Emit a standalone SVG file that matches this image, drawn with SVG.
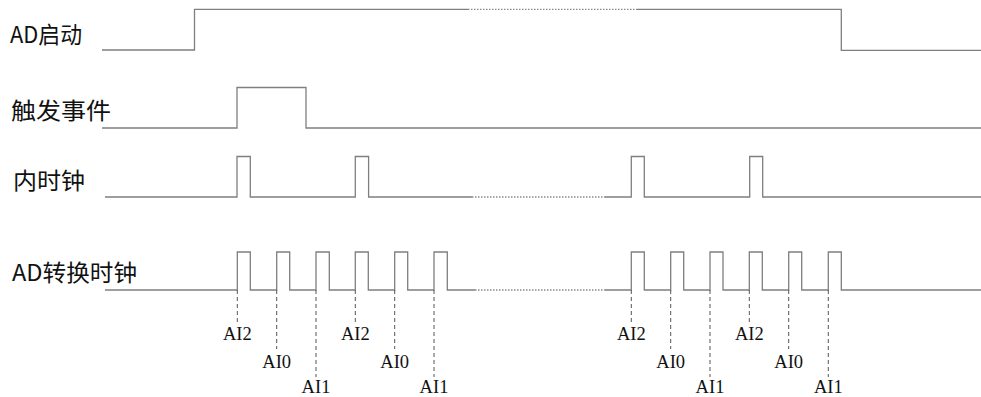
<svg xmlns="http://www.w3.org/2000/svg" width="981" height="397" viewBox="0 0 981 397">
<style>
.sig{fill:none;stroke:#7f7f7f;stroke-width:1.3}
.dot{fill:none;stroke:#8a8a8a;stroke-width:1.3;stroke-dasharray:1.5 1.5}
.dash{fill:none;stroke:#555;stroke-width:1;stroke-dasharray:4 3}
.lbl{font-family:"Noto Sans CJK SC","Noto Sans CJK JP",sans-serif;font-size:23px;fill:#111}
.ai{font-family:"Liberation Serif","Times New Roman",serif;font-size:18.5px;fill:#111;text-anchor:middle}
</style>
<rect width="981" height="397" fill="#fff"/>
<g id="ad-start">
<text class="lbl" x="10" y="43" textLength="72" lengthAdjust="spacingAndGlyphs">AD启动</text>
<path class="sig" d="M102,50 H194.5 V9.3 H468"/>
<path class="dot" d="M468,9.3 H637"/>
<path class="sig" d="M637,9.3 H841.3 V50.3 H981"/>
</g>
<g id="trigger">
<text class="lbl" x="11" y="119" textLength="100" lengthAdjust="spacingAndGlyphs">触发事件</text>
<path class="sig" d="M102,128 H237 V87.5 H306 V128 H981"/>
</g>
<g id="internal-clock">
<text class="lbl" x="13" y="189" textLength="72" lengthAdjust="spacingAndGlyphs">内时钟</text>
<path class="sig" d="M105,197 H237 V156.5 H250.3 V197 H355.3 V156.5 H368.6 V197 H472"/>
<path class="dot" d="M472,197 H605"/>
<path class="sig" d="M605,197 H631.3 V156.5 H644.3 V197 H749.7 V156.5 H762.7 V197 H981"/>
</g>
<g id="ad-conv-clock">
<text class="lbl" x="12" y="281" textLength="125" lengthAdjust="spacingAndGlyphs">AD转换时钟</text>
<path class="sig" d="M105,290 H237.3 V252 H250.3 V290 H276.7 V252 H289.7 V290 H316 V252 H329.3 V290 H355.3 V252 H368.3 V290 H394.7 V252 H407.7 V290 H434 V252 H447.3 V290 H475"/>
<path class="dot" d="M475,290 H605"/>
<path class="sig" d="M605,290 H631.3 V252 H644.3 V290 H670.7 V252 H683.7 V290 H710 V252 H723 V290 H749.3 V252 H762.3 V290 H788.7 V252 H801.7 V290 H828.3 V252 H841.3 V290 H981"/>
</g>
<g id="connectors">
<path class="dash" d="M237.3,290 V322 M276.7,290 V349 M316,290 V377 M355.3,290 V322 M394.7,290 V349 M434,290 V377 M631.3,290 V322 M670.7,290 V349 M710,290 V377 M749.3,290 V322 M788.7,290 V349 M828.3,290 V377"/>
</g>
<g id="channel-labels">
<text class="ai" x="237.3" y="340">AI2</text>
<text class="ai" x="276.7" y="368">AI0</text>
<text class="ai" x="316" y="393">AI1</text>
<text class="ai" x="355.3" y="340">AI2</text>
<text class="ai" x="394.7" y="368">AI0</text>
<text class="ai" x="434" y="393">AI1</text>
<text class="ai" x="631.3" y="340">AI2</text>
<text class="ai" x="670.7" y="368">AI0</text>
<text class="ai" x="710" y="393">AI1</text>
<text class="ai" x="749.3" y="340">AI2</text>
<text class="ai" x="788.7" y="368">AI0</text>
<text class="ai" x="828.3" y="393">AI1</text>
</g>
</svg>
